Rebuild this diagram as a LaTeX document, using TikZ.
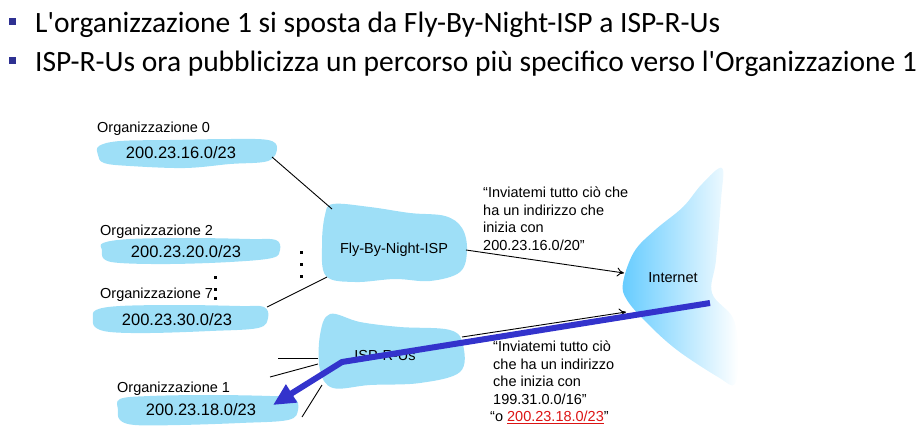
\documentclass[tikz,border=0pt]{standalone}
\usepackage{fontspec}
\setmainfont{Liberation Sans}
\newfontfamily\titlefont{Carlito}
\usetikzlibrary{arrows.meta}
\definecolor{blob}{RGB}{158,223,247}
\definecolor{navy}{RGB}{46,49,146}
\definecolor{arrowblue}{RGB}{51,51,204}
\definecolor{inetblue}{RGB}{102,204,255}
\definecolor{linkred}{RGB}{220,20,20}
\begin{document}
\begin{tikzpicture}[x=1pt,y=-1pt,
  titletext/.style={anchor=base west,inner sep=0,font=\titlefont\fontsize{29.5}{34}\selectfont},
  bulletbox/.style={fill=navy,minimum size=7pt,inner sep=0},
  orglabel/.style={anchor=base west,inner sep=0,font=\fontsize{14.5}{17}\selectfont},
  iptext/.style={inner sep=0,font=\fontsize{16.5}{19}\selectfont},
  isptext/.style={inner sep=0,font=\fontsize{14.5}{17}\selectfont},
  note/.style={anchor=north west,inner sep=0,align=left,font=\fontsize{14.5}{17.5}\selectfont},
  blobfill/.style={fill=blob},
  link/.style={draw=black,line width=0.9pt},
  adv/.style={draw=black,line width=0.9pt,-{To[length=7pt,width=9pt]}},
  dotmark/.style={fill=black,minimum size=3pt,inner sep=0}
]
\useasboundingbox (0,0) rectangle (923,439);

% title
\node[bulletbox] (b1) at (12,21) {};
\node[bulletbox] (b2) at (12,60) {};
\node[titletext] (t1) at (35,32) {L'organizzazione 1 si sposta da Fly-By-Night-ISP a ISP-R-Us};
\node[titletext] (t2) at (35,71) {ISP-R-Us ora pubblicizza un percorso più specifico verso l'Organizzazione 1};

% Internet
\shade[left color=inetblue,middle color=inetblue!45!white,right color=white] plot[smooth cycle,tension=0.6] coordinates {
 (722,168) (702,184) (683,207) (655,230) (634,252) (623,283) (627,300) (647,323) (677,350) (718,377) (735,384)
 (738,350) (733,318) (712,293) (716,260) (721,200)};
\node[isptext] (inet) at (673,278) {Internet};

% org blobs
\fill[blobfill] plot[smooth cycle,tension=0.6] coordinates {(99,146) (120,141) (170,140) (230,139) (268,140) (277,148) (268,161) (230,164) (185,168) (130,166) (104,163) (98,155)};
\fill[blobfill] plot[smooth cycle,tension=0.6] coordinates {(103,243) (130,239) (190,238) (250,239) (276,240) (280,250) (272,258) (230,262) (170,264) (120,263) (104,259) (102,250)};
\fill[blobfill] plot[smooth cycle,tension=0.6] coordinates {(96,310) (120,306) (180,305) (240,306) (264,307) (268,318) (258,328) (210,331) (150,333) (110,332) (95,327) (93,318)};
\fill[blobfill] plot[smooth cycle,tension=0.6] coordinates {(120,399) (150,396) (210,395) (270,396) (294,398) (298,410) (288,420) (240,423) (180,425) (135,425) (120,420) (118,410)};

% ISP clouds
\fill[blobfill] plot[smooth cycle,tension=0.6] coordinates {(333,204) (370,207) (410,213) (445,216) (462,228) (467,250) (460,272) (430,281) (395,279) (355,282) (326,276) (322,245) (325,215)};
\fill[blobfill] plot[smooth cycle,tension=0.6] coordinates {(330,314) (360,322) (400,327) (450,330) (463,345) (460,372) (420,383) (370,385) (333,388) (320,370) (320,335)};

% org texts
\node[orglabel] (l0) at (97,132) {Organizzazione 0};
\node[orglabel] (l2) at (100,235) {Organizzazione 2};
\node[orglabel] (l7) at (100,298) {Organizzazione 7};
\node[orglabel] (l1) at (117,392) {Organizzazione 1};
\node[iptext] (o0) at (181,153) {200.23.16.0/23};
\node[iptext] (o2) at (186,252) {200.23.20.0/23};
\node[iptext] (o7) at (177,320) {200.23.30.0/23};
\node[iptext] (o1) at (201,410) {200.23.18.0/23};
\node[isptext] (fbn) at (394,250) {Fly-By-Night-ISP};
\node[isptext] (rus) at (385,356) {ISP-R-Us};

% dots
\node[dotmark] (d1) at (215,277) {};
\node[dotmark] (d2) at (215,289) {};
\node[dotmark] (d3) at (215,298) {};
\node[dotmark] (d4) at (301,252) {};
\node[dotmark] (d5) at (301,264) {};
\node[dotmark] (d6) at (301,276) {};

% connector endpoints
\coordinate (o0e) at (272,157);
\coordinate (fbnA) at (332,209);
\coordinate (o7e) at (267,307);
\coordinate (fbnB) at (327,277);
\coordinate (fbnC) at (466,250);
\coordinate (inA) at (624,273);
\coordinate (rusC) at (462,337);
\coordinate (inB) at (626,312);
\coordinate (s1a) at (278,358);
\coordinate (s1b) at (318,358);
\coordinate (s2a) at (270,377);
\coordinate (s2b) at (318,364);
\coordinate (s3a) at (302,417);
\coordinate (s3b) at (322,385);
\coordinate (bA) at (710,303);
\coordinate (bB) at (342,362);
\coordinate (bC) at (273,405);

\draw[link] (o0e) -- (fbnA);
\draw[link] (o7e) -- (fbnB);
\draw[link] (s1a) -- (s1b);
\draw[link] (s2a) -- (s2b);
\draw[link] (s3a) -- (s3b);
\draw[adv] (fbnC) -- (inA);
\draw[adv] (rusC) -- (inB);

% blue route arrow
\draw[arrowblue,line width=6pt,line join=miter,-{Triangle[length=22pt,width=20pt]}] (bA) -- (bB) -- (bC);

% notes
\node[note] (n1) at (483,187) {“Inviatemi tutto ciò che\\ha un indirizzo che\\inizia con\\200.23.16.0/20”};
\node[note] (n2) at (493,341) {“Inviatemi tutto ciò\\che ha un indirizzo\\che inizia con\\199.31.0.0/16”\\\hspace*{-3pt}“o {\color{linkred}\underline{200.23.18.0/23}}”};
\end{tikzpicture}
\end{document}
